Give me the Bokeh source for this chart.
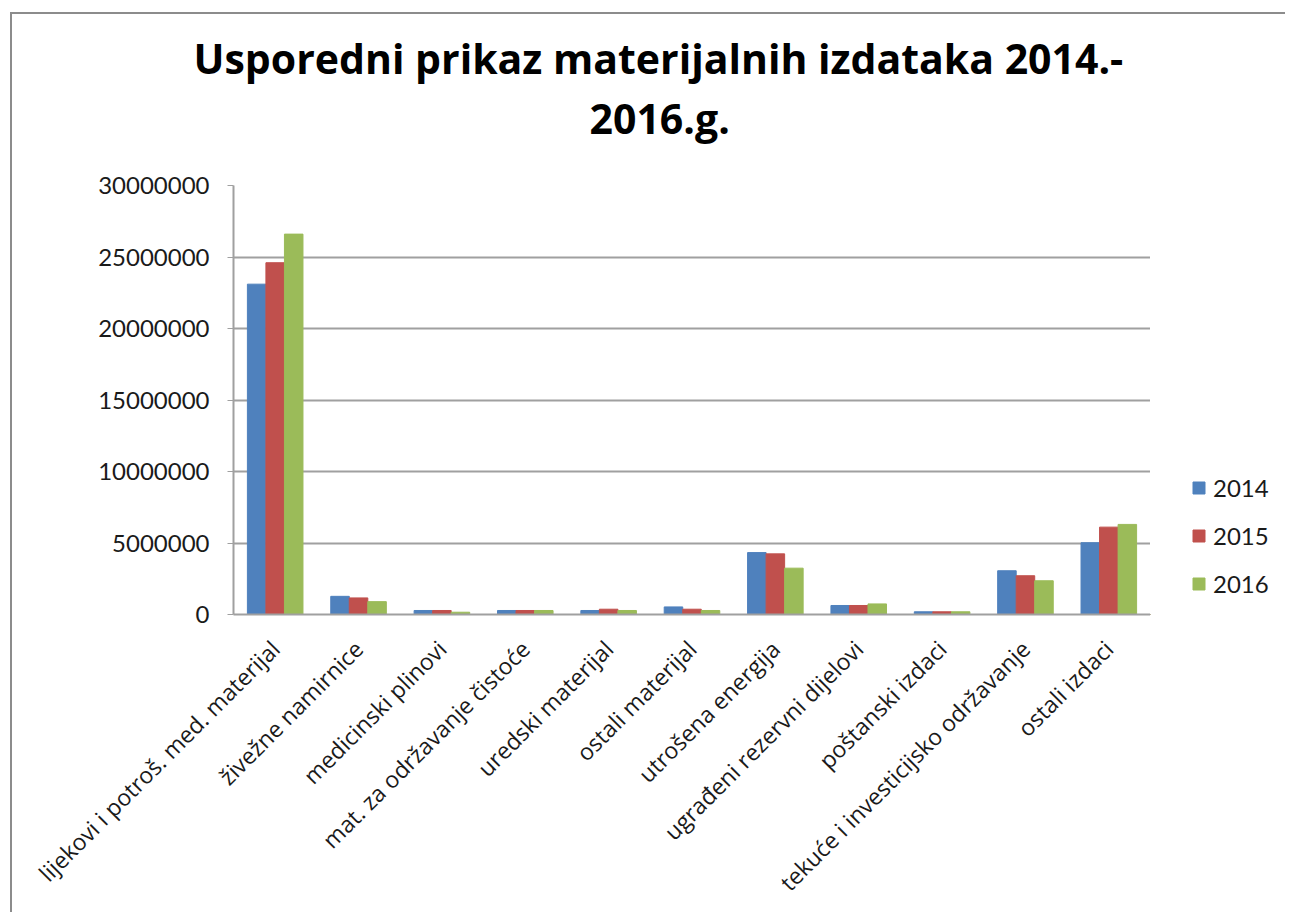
from bokeh.plotting import figure
from bokeh.models import (ColumnDataSource, FactorRange, Range1d, Legend, LegendItem,
                          SingleIntervalTicker, BasicTickFormatter, Title)
from bokeh.layouts import row
from bokeh.transform import dodge
from bokeh.embed import file_html
from bokeh.resources import INLINE
import math

categories = [
    "lijekovi i potroš. med. materijal",
    "živežne namirnice",
    "medicinski plinovi",
    "mat. za održavanje čistoće",
    "uredski materijal",
    "ostali materijal",
    "utrošena energija",
    "ugrađeni rezervni dijelovi",
    "poštanski izdaci",
    "tekuće i investicijsko održavanje",
    "ostali izdaci",
]
years = ["2014", "2015", "2016"]
v2014 = [23100000, 1270000, 280000, 280000, 280000, 530000, 4330000, 630000, 190000, 3060000, 5020000]
v2015 = [24600000, 1160000, 280000, 280000, 370000, 370000, 4240000, 630000, 190000, 2710000, 6110000]
v2016 = [26600000, 900000, 160000, 280000, 280000, 280000, 3240000, 740000, 190000, 2360000, 6300000]
colors = ["#4F81BD", "#C0504D", "#9BBB59"]
title_lines = ["Usporedni prikaz materijalnih izdataka 2014.-", "2016.g."]

source = ColumnDataSource(data=dict(cat=categories, y2014=v2014, y2015=v2015, y2016=v2016))

FONT = "Lato"
TFONT = "Open Sans"
H = 898

p = figure(
    x_range=FactorRange(*categories),
    y_range=Range1d(0, 30000000),
    width=1138, height=H,
    output_backend="svg", toolbar_location=None,
    min_border_left=221, min_border_right=0, min_border_top=171, min_border_bottom=298,
)

bw = 1 / 4.5
renderers = []
for i, (yr, col) in enumerate(zip(years, colors)):
    r = p.vbar(x=dodge("cat", (i - 1) * bw, range=p.x_range), top="y" + yr, width=bw,
               source=source, fill_color=col, line_color=col, line_width=1)
    renderers.append(r)

# titles (p.title is the outer line; the added Title sits next to the frame)
t1 = p.title
t1.text = title_lines[0]
t1.text_font = TFONT
t1.text_font_size = "41px"
t1.text_font_style = "bold"
t1.text_color = "#000000"
t1.align = "left"
t1.offset = -40
t1.standoff = -76
t2 = Title(text=title_lines[1], text_font=TFONT, text_font_size="41px", text_font_style="bold",
           text_color="#000000", align="left", offset=356, standoff=80)
p.add_layout(t2, "above")

# axes
p.yaxis.ticker = SingleIntervalTicker(interval=5000000)
p.yaxis.formatter = BasicTickFormatter(use_scientific=False)
p.yaxis.major_label_text_font = FONT
p.yaxis.major_label_text_font_size = "24px"
p.yaxis.major_label_text_color = "#1a1a1a"
p.yaxis.axis_line_color = "#a0a0a0"
p.yaxis.axis_line_width = 2
p.yaxis.major_tick_line_color = "#a0a0a0"
p.yaxis.major_tick_out = 6
p.yaxis.major_tick_in = 0
p.yaxis.minor_tick_line_color = None
p.yaxis.major_label_standoff = 18

p.xaxis.major_label_orientation = math.pi / 4
p.xaxis.major_label_text_font = TFONT
p.xaxis.major_label_text_font_size = "23px"
p.xaxis.major_label_text_color = "#1a1a1a"
p.xaxis.axis_line_color = "#a0a0a0"
p.xaxis.axis_line_width = 2
p.xaxis.major_tick_line_color = None
p.xaxis.minor_tick_line_color = None
p.xaxis.major_label_standoff = 24

p.xgrid.grid_line_color = None
p.ygrid.grid_line_color = "#a0a0a0"
p.ygrid.grid_line_width = 2
p.outline_line_color = None

# legend panel to the right of the plot area
pl = figure(width=135, height=H, x_range=Range1d(0, 1), y_range=Range1d(0, 1),
            output_backend="svg", toolbar_location=None,
            x_axis_location=None, y_axis_location=None,
            min_border_left=0, min_border_right=0, min_border_top=0, min_border_bottom=0)
pl.grid.grid_line_color = None
pl.outline_line_color = None
lrs = []
for yr, col in zip(years, colors):
    lrs.append(pl.vbar(x=[-10], top=[-10], bottom=[-20], width=0.1, fill_color=col, line_color=col))
legend = Legend(items=[LegendItem(label=yr, renderers=[r]) for yr, r in zip(years, lrs)],
                location=(41, 16), orientation="vertical",
                label_text_font=FONT, label_text_font_size="24px", label_text_color="#1a1a1a",
                glyph_width=15, glyph_height=15, label_height=24, spacing=19,
                padding=10, margin=0, border_line_color=None, background_fill_alpha=0,
                label_standoff=7)
pl.add_layout(legend, "center")

layout = row(p, pl)
layout.styles = {"margin-left": "10px", "margin-top": "12px",
                 "border-left": "2px solid #8c8c8c", "border-top": "2px solid #8c8c8c"}

open("out.html", "w").write(file_html(layout, INLINE))
